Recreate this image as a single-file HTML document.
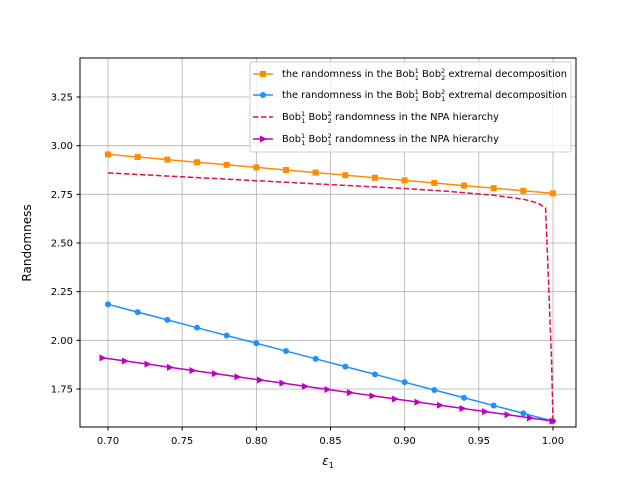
<!DOCTYPE html><html><head><style>body{margin:0;background:#fff}svg{font-family:"DejaVu Sans","Liberation Sans",sans-serif}</style></head><body>
<svg id="s" width="640" height="480" xmlns="http://www.w3.org/2000/svg">
<rect width="640" height="480" fill="#fff"/>
<g id="grid"></g><g id="data"></g>
<rect x="80" y="58" width="496" height="369" fill="none" stroke="#000" stroke-width="1"/>
<g id="ticks" font-size="10" fill="#000"></g>
<text x="328" y="465" font-size="12" text-anchor="middle" font-style="italic">ε<tspan font-size="8" dy="3" font-style="normal">1</tspan></text>
<text transform="translate(31,243) rotate(-90)" font-size="12" text-anchor="middle">Randomness</text>
<g font-size="9.6">
<rect x="250" y="62" width="321" height="90" fill="#fff" fill-opacity="0.8" stroke="#ccc" rx="2"/>
<line x1="253" y1="74" x2="273" y2="74" stroke="#ff8c00" stroke-width="1.5"/><rect x="260" y="71" width="6" height="6" fill="#ff8c00"/>
<text x="282" y="77" textLength="285" lengthAdjust="spacingAndGlyphs">the randomness in the Bob<tspan font-size="6.5" dy="-4">1</tspan><tspan font-size="6.5" dx="-4" dy="7">1</tspan><tspan dy="-3"> Bob</tspan><tspan font-size="6.5" dy="-4">2</tspan><tspan font-size="6.5" dx="-4" dy="7">2</tspan><tspan dy="-3"> extremal decomposition</tspan></text>
<line x1="253" y1="95" x2="273" y2="95" stroke="#1e90ff" stroke-width="1.5"/><circle cx="263" cy="95" r="3" fill="#1e90ff"/>
<text x="282" y="98" textLength="285" lengthAdjust="spacingAndGlyphs">the randomness in the Bob<tspan font-size="6.5" dy="-4">1</tspan><tspan font-size="6.5" dx="-4" dy="7">1</tspan><tspan dy="-3"> Bob</tspan><tspan font-size="6.5" dy="-4">2</tspan><tspan font-size="6.5" dx="-4" dy="7">1</tspan><tspan dy="-3"> extremal decomposition</tspan></text>
<line x1="253" y1="117" x2="273" y2="117" stroke="#dc143c" stroke-width="1.5" stroke-dasharray="5.5,2.5"/>
<text x="282" y="120" textLength="217" lengthAdjust="spacingAndGlyphs">Bob<tspan font-size="6.5" dy="-4">1</tspan><tspan font-size="6.5" dx="-4" dy="7">1</tspan><tspan dy="-3"> Bob</tspan><tspan font-size="6.5" dy="-4">2</tspan><tspan font-size="6.5" dx="-4" dy="7">2</tspan><tspan dy="-3"> randomness in the NPA hierarchy</tspan></text>
<line x1="253" y1="139" x2="273" y2="139" stroke="#c000c0" stroke-width="1.5"/><polygon points="260,135.5 260,142.5 267,139" fill="#c000c0"/>
<text x="282" y="142" textLength="217" lengthAdjust="spacingAndGlyphs">Bob<tspan font-size="6.5" dy="-4">1</tspan><tspan font-size="6.5" dx="-4" dy="7">1</tspan><tspan dy="-3"> Bob</tspan><tspan font-size="6.5" dy="-4">2</tspan><tspan font-size="6.5" dx="-4" dy="7">1</tspan><tspan dy="-3"> randomness in the NPA hierarchy</tspan></text>
</g>
</svg>
<script>
const NS="http://www.w3.org/2000/svg";
const X=v=>108+(v-0.7)*1483.33, Y=v=>389-(v-1.75)*194.67;
function el(p,t,a){const e=document.createElementNS(NS,t);for(const k in a)e.setAttribute(k,a[k]);document.getElementById(p).appendChild(e);return e;}
for(let i=0;i<7;i++){const v=0.7+i*0.05,x=X(v);el("grid","line",{x1:x,x2:x,y1:58,y2:427,stroke:"#b0b0b0","stroke-width":0.8});
el("ticks","line",{x1:x,x2:x,y1:427,y2:430.5,stroke:"#000"});const t=el("ticks","text",{x:x,y:444,"text-anchor":"middle"});t.textContent=v.toFixed(2);}
for(let i=0;i<7;i++){const v=1.75+i*0.25,y=Y(v);el("grid","line",{x1:80,x2:576,y1:y,y2:y,stroke:"#b0b0b0","stroke-width":0.8});
el("ticks","line",{x1:76.5,x2:80,y1:y,y2:y,stroke:"#000"});const t=el("ticks","text",{x:73,y:y+3.5,"text-anchor":"end"});t.textContent=v.toFixed(2);}
function line(pts,c,extra){el("data","polyline",Object.assign({points:pts.map(p=>X(p[0])+","+Y(p[1])).join(" "),fill:"none",stroke:c,"stroke-width":1.5},extra||{}));}
let o=[],b=[],m=[];
for(let i=0;i<=15;i++){const v=0.7+i*0.02;o.push([v,2.955-(v-0.7)/0.3*0.2]);b.push([v,2.185-(v-0.7)/0.3*0.6]);}
for(let i=0;i<=20;i++){const v=0.6966+i*(0.3034/20);m.push([v,1.91-(v-0.6966)/0.3034*0.325]);}
line(o,"#ff8c00");o.forEach(p=>el("data","rect",{x:X(p[0])-3,y:Y(p[1])-3,width:6,height:6,fill:"#ff8c00"}));
line(b,"#1e90ff");b.forEach(p=>el("data","circle",{cx:X(p[0]),cy:Y(p[1]),r:3,fill:"#1e90ff"}));
let r=[[0.7,2.86],[0.75,2.84],[0.8,2.82],[0.85,2.80],[0.9,2.78],[0.93,2.765],[0.96,2.745],[0.98,2.725],[0.99,2.705],[0.995,2.68],[0.997,2.3],[0.999,1.9],[1.0,1.585]];
line(r,"#dc143c",{"stroke-dasharray":"5.5,2.5"});
line(m,"#c000c0");m.forEach(p=>{const x=X(p[0]),y=Y(p[1]);el("data","polygon",{points:`${x-3.5},${y-3.5} ${x-3.5},${y+3.5} ${x+3.5},${y}`,fill:"#c000c0"});});
</script>
</body></html>
